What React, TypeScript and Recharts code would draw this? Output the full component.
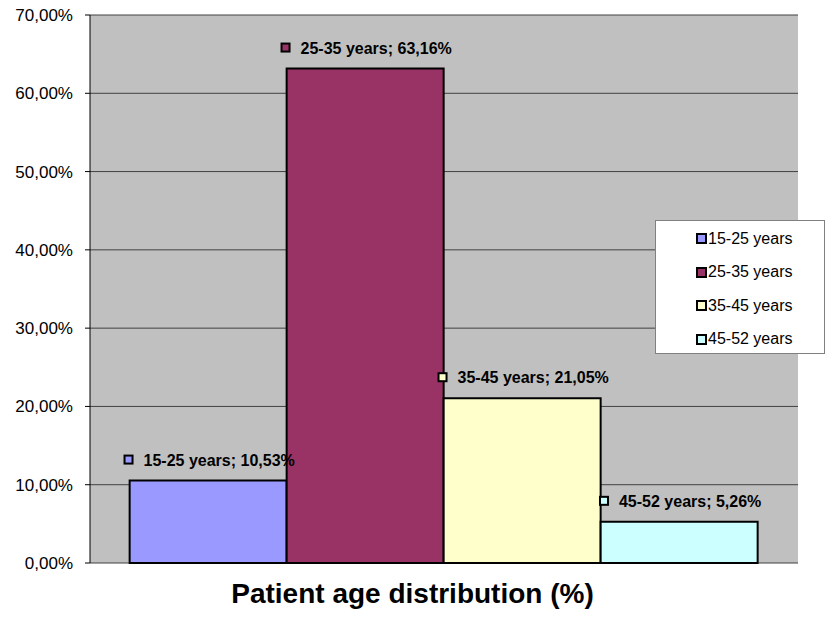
import React from "react";
import { BarChart, Bar, XAxis, YAxis, CartesianGrid, LabelList, Legend } from "recharts";

const groups = ["15-25 years", "25-35 years", "35-45 years", "45-52 years"];
const shares = [10.53, 63.16, 21.05, 5.26];
const colors = ["#9999FF", "#993366", "#FFFFCC", "#CCFFFF"];
const yTicks = [0, 10, 20, 30, 40, 50, 60, 70];

const FONT = "'Liberation Sans', Arial, Helvetica, sans-serif";

const data = [
  groups.reduce(
    (row, g, i) => ({ ...row, [`s${i}`]: shares[i] }),
    { name: "age" } as Record<string, string | number>
  ),
];

const fmt = (v: number) => v.toFixed(2).replace(".", ",") + "%";

let ctx: CanvasRenderingContext2D | null = null;
function textWidth(s: string, font: string) {
  if (!ctx) ctx = document.createElement("canvas").getContext("2d");
  if (!ctx) return s.length * 8.3;
  ctx.font = font;
  return ctx.measureText(s).width;
}

const makeLabel = (i: number) => (props: any) => {
  const { x, y, width } = props;
  const text = `${groups[i]}; ${fmt(shares[i])}`;
  const tw = textWidth(text, `bold 16px ${FONT}`);
  const total = 10 + 10 + tw;
  const cx = Number(x) + Number(width) / 2;
  const left = cx - total / 2 + 1;
  const base = Number(y) - 15;
  return (
    <g>
      <rect x={left + 1} y={base - 10} width={8} height={8} fill={colors[i]} stroke="#000" strokeWidth={2} />
      <text x={left + 20} y={base} fontSize={16} fontWeight="bold" fontFamily={FONT} fill="#000">
        {text}
      </text>
    </g>
  );
};

const renderLegend = () => (
  <div
    style={{
      background: "#fff",
      border: "1px solid #808080",
      width: 170,
      height: 134,
      boxSizing: "border-box",
      paddingTop: 1,
    }}
  >
    {groups.map((g, i) => (
      <div
        key={g}
        style={{ display: "flex", alignItems: "center", height: 33.5, paddingLeft: 40, fontSize: 16, fontFamily: FONT }}
      >
        <span
          style={{
            display: "inline-block",
            width: 7,
            height: 7,
            background: colors[i],
            border: "2px solid #000",
            marginRight: 1,
          }}
        />
        {g}
      </div>
    ))}
  </div>
);

export default function App() {
  return (
    <div style={{ position: "absolute", left: 0, top: 0, width: 825, height: 618, background: "#fff" }}>
      <BarChart
        width={825}
        height={618}
        data={data}
        margin={{ top: 15, right: 27, left: 0, bottom: 55 }}
        barCategoryGap="5.6%"
        barGap={0}
      >
        <CartesianGrid vertical={false} fill="#C0C0C0" stroke="#404040" strokeWidth={1} />
        <XAxis dataKey="name" tick={false} tickLine={false} axisLine={{ stroke: "#404040", strokeWidth: 1 }} height={0} />
        <XAxis
          xAxisId="top"
          orientation="top"
          dataKey="name"
          tick={false}
          tickLine={false}
          axisLine={{ stroke: "#808080", strokeWidth: 2 }}
          height={0}
        />
        <YAxis
          type="number"
          domain={[0, 70]}
          ticks={yTicks}
          interval={0}
          width={90}
          tickFormatter={fmt}
          tickSize={5}
          tickMargin={12}
          axisLine={{ stroke: "#000", strokeWidth: 1 }}
          tickLine={{ stroke: "#000" }}
          tick={{ fill: "#000", fontSize: 17, fontFamily: FONT }}
        />
        <YAxis
          yAxisId="right"
          orientation="right"
          type="number"
          domain={[0, 70]}
          width={0}
          tick={false}
          tickLine={false}
          axisLine={{ stroke: "#808080", strokeWidth: 3 }}
        />
        <Legend
          layout="vertical"
          align="center"
          verticalAlign="middle"
          content={renderLegend}
          wrapperStyle={{ position: "absolute", left: 655, top: 220, width: 170, height: 134 }}
        />
        {groups.map((g, i) => (
          <Bar
            key={g}
            dataKey={`s${i}`}
            name={g}
            fill={colors[i]}
            stroke="#000"
            strokeWidth={2}
            isAnimationActive={false}
          >
            <LabelList dataKey={`s${i}`} content={makeLabel(i)} />
          </Bar>
        ))}
      </BarChart>
      <div
        style={{
          position: "absolute",
          left: 0,
          top: 578,
          width: 825,
          textAlign: "center",
          fontFamily: FONT,
          fontWeight: "bold",
          fontSize: 28,
          lineHeight: "31px",
        }}
      >
        Patient age distribution (%)
      </div>
    </div>
  );
}
